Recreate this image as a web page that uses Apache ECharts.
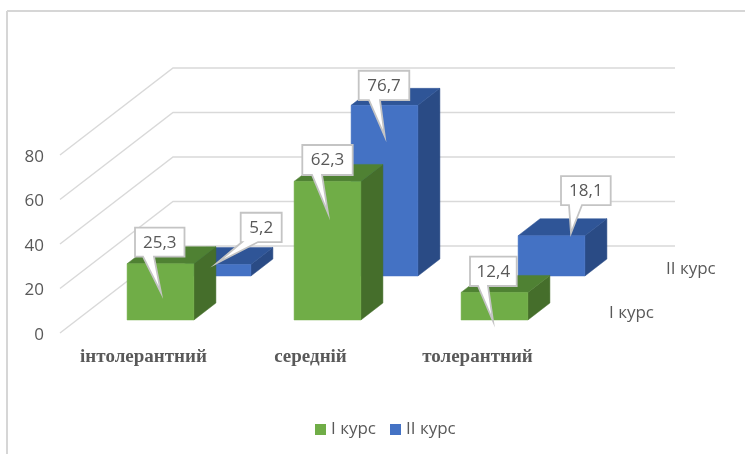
<!DOCTYPE html>
<html>
<head>
<meta charset="utf-8">
<style>html,body{margin:0;padding:0;background:#fff}#c{width:745px;height:454px}</style>
<script src="https://cdn.jsdelivr.net/npm/echarts@6/dist/echarts.min.js"></script>
</head>
<body>
<div id="c"></div>
<script>
const categories = ['інтолерантний', 'середній', 'толерантний'];
const seriesNames = ['I курс', 'II курс'];
const course1 = [25.3, 62.3, 12.4];
const course2 = [5.2, 76.7, 18.1];
const yTicks = [0, 20, 40, 60, 80];

// Projection of the pseudo-3D scene, in pixels
const WALL = { dx: 113, dy: -87, rightEnd: 675 };
const BAR_DEPTH = { dx: 22, dy: -17 };
const PLANE1 = { dx: 17, dy: -13 };
const PLANE2 = { dx: 74, dy: -57 };
const TEXT = '#595959';
const FONT = '"Open Sans", sans-serif';
const STYLE1 = { front: '#70ad47', top: '#4f8133', side: '#456e2b' };
const STYLE2 = { front: '#4472c4', top: '#2f5597', side: '#2a4b85' };
// Callout geometry relative to the bar's top front centre
const CALLOUT1 = [
  { l: -25.5, t: -36, w: 49.5, h: 29, b0: -17.5, b1: -6.5, tx: 0.5, ty: 29 },
  { l: -25.2, t: -36.4, w: 50.4, h: 30, b0: -15.5, b1: -5.5, tx: 0.5, ty: 31.6 },
  { l: -24.5, t: -35.7, w: 46.7, h: 29.3, b0: -16.5, b1: -6.5, tx: -1.5, ty: 28.6 }
];
const CALLOUT2 = [
  { l: 23.2, t: -51.7, w: 41, h: 29.3, b0: 24.5, b1: 40.5, tx: -0.5, ty: -1.4 },
  { l: -25.8, t: -34.6, w: 50.6, h: 29.3, b0: -15.5, b1: -4.5, tx: 0.2, ty: 30.7 },
  { l: 9.5, t: -59.7, w: 49.7, h: 29, b0: 17.5, b1: 30.5, tx: 19.5, ty: -2.7 }
];

function barRenderer(plane, st) {
  return function (params, api) {
    const i = api.value(0), v = api.value(1);
    const top = api.coord([i, v]), base = api.coord([i, 0]);
    const w = api.size([1, 0])[0] * 0.4;
    const x0 = top[0] + plane.dx - w / 2, x1 = x0 + w;
    const yT = top[1] + plane.dy, yB = base[1] + plane.dy;
    const dx = BAR_DEPTH.dx, dy = BAR_DEPTH.dy;
    const poly = (pts, fill) => ({ type: 'polygon', shape: { points: pts }, style: { fill: fill, stroke: fill, lineWidth: 0.5 } });
    return { type: 'group', children: [
      poly([[x1, yT], [x1 + dx, yT + dy], [x1 + dx, yB + dy], [x1, yB]], st.side),
      poly([[x0, yT], [x0 + dx, yT + dy], [x1 + dx, yT + dy], [x1, yT]], st.top),
      poly([[x0, yT], [x1, yT], [x1, yB], [x0, yB]], st.front)
    ] };
  };
}

function calloutRenderer(plane, layouts) {
  return function (params, api) {
    const i = api.value(0), v = api.value(1);
    const p = api.coord([i, v]);
    const ax = p[0] + plane.dx, ay = p[1] + plane.dy;
    const c = layouts[i];
    const l = ax + c.l, t = ay + c.t, r = l + c.w, b = t + c.h;
    const pts = [[l, t], [r, t], [r, b], [ax + c.b1, b], [ax + c.tx, ay + c.ty], [ax + c.b0, b], [l, b]];
    return { type: 'group', children: [
      { type: 'polygon', shape: { points: pts }, style: { fill: '#fff', stroke: '#c4c4c4', lineWidth: 1.8 } },
      { type: 'text', style: { x: (l + r) / 2, y: (t + b) / 2 + 0.5, text: String(v).replace('.', ','), fill: TEXT, font: '17px ' + FONT, align: 'center', verticalAlign: 'middle' } }
    ] };
  };
}

function wallRenderer(params, api) {
  const y = api.coord([0, api.value(1)])[1];
  const x = params.coordSys.x;
  return { type: 'polyline', shape: { points: [[x, y], [x + WALL.dx, y + WALL.dy], [WALL.rightEnd, y + WALL.dy]] }, style: { fill: 'none', stroke: '#d9d9d9', lineWidth: 1.4 } };
}

function depthLabelRenderer(params, api) {
  const s = api.value(0);
  const plane = s === 0 ? PLANE1 : PLANE2;
  const base = api.coord([0, 0]);
  const xEnd = params.coordSys.x + params.coordSys.width;
  return { type: 'text', style: { x: xEnd + plane.dx + BAR_DEPTH.dx / 2 + 20, y: base[1] + plane.dy + BAR_DEPTH.dy / 2 + 2, text: seriesNames[s], fill: TEXT, font: '17px ' + FONT, align: 'left', verticalAlign: 'middle' } };
}

const toData = vals => vals.map((v, i) => [i, v]);
const base = { type: 'custom', coordinateSystem: 'cartesian2d', encode: { x: 0, y: 1 }, clip: false, silent: true };

const chart = echarts.init(document.getElementById('c'), null, { renderer: 'canvas' });
chart.setOption({
  animation: false,
  backgroundColor: '#fff',
  textStyle: { fontFamily: FONT },
  grid: { left: 60, top: 155, width: 501, height: 178 },
  xAxis: { type: 'category', data: categories, axisLine: { show: false }, axisTick: { show: false }, splitLine: { show: false },
    axisLabel: { color: TEXT, fontFamily: '"Liberation Serif", serif', fontWeight: 'bold', fontSize: 19, margin: 15 } },
  yAxis: { type: 'value', min: yTicks[0], max: yTicks[yTicks.length - 1], interval: 20, axisLine: { show: false }, axisTick: { show: false }, splitLine: { show: false },
    axisLabel: { margin: 16, formatter: '{a|{value}}', rich: { a: { color: TEXT, fontSize: 17, fontFamily: FONT, padding: [4, 0, 0, 0] } } } },
  legend: { data: seriesNames, left: 310, top: 416, itemWidth: 11, itemHeight: 11, itemGap: 14, icon: 'rect', textStyle: { color: TEXT, fontSize: 17, fontFamily: FONT } },
  graphic: [
    { type: 'line', shape: { x1: 7, y1: 11, x2: 7, y2: 454 }, style: { stroke: '#d6d6d6', lineWidth: 2 } },
    { type: 'line', shape: { x1: 7, y1: 11, x2: 745, y2: 11 }, style: { stroke: '#d6d6d6', lineWidth: 2 } }
  ],
  series: [
    Object.assign({}, base, { name: 'wall', z: 1, data: yTicks.map(v => [0, v]), renderItem: wallRenderer }),
    Object.assign({}, base, { name: 'depth', z: 1, data: [[0, 0], [1, 0]], renderItem: depthLabelRenderer }),
    Object.assign({}, base, { name: seriesNames[1], z: 2, itemStyle: { color: STYLE2.front }, data: toData(course2), renderItem: barRenderer(PLANE2, STYLE2) }),
    Object.assign({}, base, { name: seriesNames[0], z: 3, itemStyle: { color: STYLE1.front }, data: toData(course1), renderItem: barRenderer(PLANE1, STYLE1) }),
    Object.assign({}, base, { name: 'labels2', z: 4, data: toData(course2), renderItem: calloutRenderer(PLANE2, CALLOUT2) }),
    Object.assign({}, base, { name: 'labels1', z: 4, data: toData(course1), renderItem: calloutRenderer(PLANE1, CALLOUT1) })
  ]
});
</script>
</body>
</html>
